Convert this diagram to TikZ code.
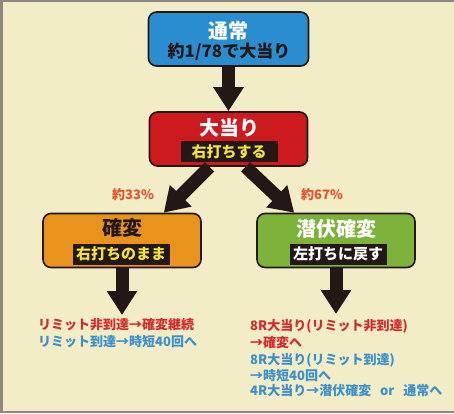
\documentclass[tikz,border=0pt]{standalone}
\usepackage{fontspec}
\setmainfont{Noto Sans CJK JP}
\usetikzlibrary{arrows.meta}
\definecolor{bg}{HTML}{F2EDC6}
\definecolor{framec}{HTML}{8C8782}
\definecolor{boxblue}{HTML}{2A8DD0}
\definecolor{boxred}{HTML}{CC1A1F}
\definecolor{boxorange}{HTML}{E8931C}
\definecolor{boxgreen}{HTML}{7DB33A}
\definecolor{stripy}{HTML}{F0E43A}
\definecolor{arrowc}{HTML}{231815}
\definecolor{pct}{HTML}{E5512A}
\definecolor{txtred}{HTML}{D42A2E}
\definecolor{txtblue}{HTML}{3B8FCB}
\tikzset{
  box/.style={draw=arrowc, line width=1.6pt, rounded corners=8pt, minimum width=158pt, minimum height=54pt, inner sep=0pt},
  ttl/.style={font=\bfseries\fontsize{20}{22}\selectfont, inner sep=0pt},
  sub/.style={font=\bfseries\fontsize{17}{19}\selectfont, inner sep=0pt, text=arrowc},
  strip/.style={fill=arrowc, minimum width=97pt, minimum height=21pt, inner sep=0pt, font=\bfseries\fontsize{15}{16}\selectfont},
  bigarrow/.style={draw=arrowc, line width=13pt, -{Triangle[length=24pt,width=29pt]}},
  pctlabel/.style={text=pct, font=\bfseries\fontsize{13}{14}\selectfont, inner sep=0pt},
  note/.style={anchor=base west, inner sep=0pt, font=\bfseries\fontsize{13}{14}\selectfont}
}
\begin{document}
\begin{tikzpicture}[x=1pt,y=-1pt]
\useasboundingbox (0,0) rectangle (454,413);
\fill[bg] (0,0) rectangle (454,413);
\fill[framec] (0,0) rectangle (454,2);
\fill[framec] (0,0) rectangle (3,413);
\fill[framec] (0,411) rectangle (454,413);

% boxes
\node[box, fill=boxblue, minimum width=160pt] (normal) at (228.5,39) {};
\node[ttl, text=white] (normalt) at (228.5,31) {通常};
\node[sub] (normals) at (229,52) {約1/78で大当り};

\node[box, fill=boxred] (hit) at (228.5,139) {};
\node[ttl, text=white] (hitt) at (229,128) {大当り};
\node[strip, text=stripy] (hits) at (229,151.5) {右打ちする};

\node[box, fill=boxorange] (kakuhen) at (122,240.5) {};
\node[ttl, text=arrowc] (kakuhent) at (122,228) {確変};
\node[strip, text=stripy] (kakuhens) at (121,254) {右打ちのまま};

\node[box, fill=boxgreen] (senpuku) at (336,240.5) {};
\node[ttl, text=white] (senpukut) at (336,229) {潜伏確変};
\node[strip, text=white] (senpukus) at (338,254) {左打ちに戻す};

% percentages
\node[pctlabel] (p33) at (133,195) {約33\%};
\node[pctlabel] (p67) at (322,195) {約67\%};

% notes
\node[note, text=txtred] (l1) at (38,329) {リミット非到達→確変継続};
\node[note, text=txtblue] (l2) at (38,346) {リミット到達→時短40回へ};

\node[note, text=txtred] (r1) at (250,330) {8R大当り(リミット非到達)};
\node[note, text=txtred] (r2) at (250,347) {→確変へ};
\node[note, text=txtblue] (r3) at (250,364) {8R大当り(リミット到達)};
\node[note, text=txtblue] (r4) at (250,380) {→時短40回へ};
\node[note, text=txtblue] (r5) at (250,395) {4R大当り→潜伏確変\hspace{0.45em} or\hspace{0.45em} 通常へ};

% arrow tips
\coordinate (ltip) at (122,315);
\coordinate (rtip) at (336,314);

% arrows
\draw[bigarrow] (normal.south) -- (hit.north);
\draw[bigarrow] ([xshift=-19pt]hit.south) -- ([xshift=-38pt]kakuhen.north east);
\draw[bigarrow] ([xshift=17pt]hit.south) -- ([xshift=38pt]senpuku.north west);
\draw[bigarrow] (kakuhen.south) -- (ltip);
\draw[bigarrow] (senpuku.south) -- (rtip);
\end{tikzpicture}
\end{document}
